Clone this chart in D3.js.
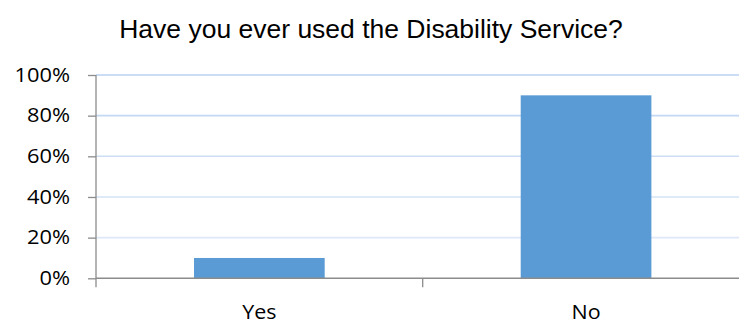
<!DOCTYPE html>
<html>
<head>
<meta charset="utf-8">
<script src="https://cdn.jsdelivr.net/npm/d3@7"></script>
<style>
  html, body { margin: 0; padding: 0; background: #fff; }
  svg { display: block; }
</style>
</head>
<body>
<svg id="chart" width="739" height="325"></svg>
<script>
// Survey answers and their share of respondents
const categories = ["Yes", "No"];
const shares = [0.10, 0.90];
const yTicks = [0, 0.2, 0.4, 0.6, 0.8, 1.0];
const title = "Have you ever used the Disability Service?";

const svg = d3.select("#chart");
const W = 739, H = 325;
const plot = { left: 96, right: 749.4, top: 75, bottom: 278.3 };
const labelFont = "'Open Sans', Lato, sans-serif";

const x = d3.scaleBand()
  .domain(categories)
  .range([plot.left, plot.right])
  .paddingInner(0.6)
  .paddingOuter(0.3);

const y = d3.scaleLinear().domain([0, 1]).range([plot.bottom, plot.top]);

// Title
svg.append("text")
  .attr("transform", "translate(371,38) scale(1.06,1)")
  .attr("text-anchor", "middle")
  .style("font-family", "'Liberation Sans', Arial, sans-serif")
  .style("font-size", "25px")
  .style("fill", "#000")
  .text(title);

// Horizontal gridlines, shading from pale at the bottom to a stronger blue at the top
const gridColor = d3.interpolateRgb("#e6eefa", "#bad2f0");
svg.append("g")
  .selectAll("line")
  .data(yTicks.filter(d => d > 0))
  .join("line")
  .attr("x1", plot.left)
  .attr("x2", W)
  .attr("y1", d => y(d))
  .attr("y2", d => y(d))
  .attr("stroke", d => gridColor(d))
  .attr("stroke-width", 1.6);

// Bars
svg.append("g")
  .selectAll("rect")
  .data(categories.map((c, i) => ({ c, v: shares[i] })))
  .join("rect")
  .attr("x", d => x(d.c))
  .attr("width", x.bandwidth())
  .attr("y", d => y(d.v))
  .attr("height", d => y(0) - y(d.v))
  .attr("fill", "#5b9bd5");

// Y axis
const yAxis = d3.axisLeft(y)
  .tickValues(yTicks)
  .tickFormat(d3.format(".0%"))
  .tickSize(8)
  .tickPadding(0);
const gy = svg.append("g")
  .attr("transform", `translate(${plot.left},0)`)
  .call(yAxis);
gy.select(".domain").remove();
gy.append("line")
  .attr("x1", 0).attr("x2", 0)
  .attr("y1", plot.top).attr("y2", plot.bottom + 9)
  .attr("stroke", "#8c8c8c").attr("stroke-width", 1.3);
gy.selectAll(".tick line").attr("stroke", "#8c8c8c").attr("stroke-width", 1.3);
gy.selectAll(".tick text")
  .attr("x", null)
  .attr("transform", "translate(-26,0) scale(1.12,1)")
  .style("font-family", labelFont)
  .style("font-size", "19.5px")
  .style("fill", "#000");

// X axis: baseline plus tick marks at the category boundaries
const gx = svg.append("g");
gx.append("line")
  .attr("x1", plot.left).attr("x2", W)
  .attr("y1", plot.bottom).attr("y2", plot.bottom)
  .attr("stroke", "#8c8c8c").attr("stroke-width", 1.6);
const boundaries = categories.slice(1).map(c => x(c) - x.step() * x.paddingInner() / 2);
gx.selectAll("line.tick")
  .data(boundaries)
  .join("line")
  .attr("class", "tick")
  .attr("x1", d => d).attr("x2", d => d)
  .attr("y1", plot.bottom).attr("y2", plot.bottom + 9)
  .attr("stroke", "#8c8c8c").attr("stroke-width", 1.3);
gx.selectAll("text")
  .data(categories)
  .join("text")
  .attr("transform", d => `translate(${x(d) + x.bandwidth() / 2},319) scale(1.1,1)`)
  .attr("text-anchor", "middle")
  .style("font-family", labelFont)
  .style("font-size", "19.5px")
  .style("fill", "#000")
  .text(d => d);
</script>
</body>
</html>
